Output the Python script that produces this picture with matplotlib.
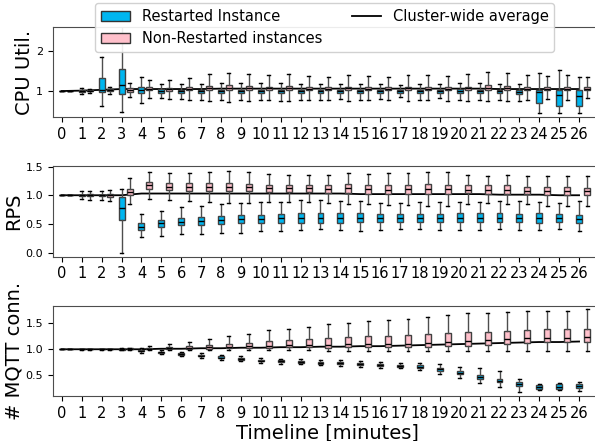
import matplotlib
matplotlib.use("Agg")
import matplotlib.pyplot as plt
from matplotlib.patches import Patch
from matplotlib.lines import Line2D

minutes = list(range(27))

# CPU utilisation - restarted instance
cpu_r_lo  = [1, 0.93, 0.63, 0.48, 0.71, 0.83, 0.80, 0.78, 0.78, 0.77, 0.78, 0.76, 0.78, 0.78, 0.80, 0.78, 0.80, 0.84, 0.78, 0.83, 0.77, 0.78, 0.78, 0.76, 0.44, 0.46, 0.46]
cpu_r_q1  = [1, 0.98, 0.97, 0.92, 0.94, 0.94, 0.95, 0.95, 0.95, 0.94, 0.95, 0.94, 0.94, 0.94, 0.95, 0.94, 0.94, 0.96, 0.94, 0.96, 0.94, 0.94, 0.94, 0.93, 0.69, 0.62, 0.62]
cpu_r_med = [1, 1.00, 1.02, 1.15, 1.02, 0.99, 0.99, 0.99, 0.99, 0.99, 0.99, 0.99, 0.99, 0.99, 0.99, 0.99, 0.99, 1.00, 0.99, 0.99, 0.99, 0.99, 0.99, 0.98, 0.97, 0.90, 0.87]
cpu_r_q3  = [1, 1.02, 1.32, 1.55, 1.11, 1.04, 1.03, 1.03, 1.03, 1.03, 1.03, 1.03, 1.03, 1.03, 1.03, 1.03, 1.03, 1.03, 1.03, 1.03, 1.04, 1.03, 1.03, 1.03, 1.03, 1.03, 1.03]
cpu_r_hi  = [1, 1.07, 1.86, 2.90, 1.36, 1.17, 1.18, 1.17, 1.20, 1.20, 1.19, 1.21, 1.18, 1.18, 1.17, 1.18, 1.17, 1.15, 1.18, 1.18, 1.19, 1.19, 1.18, 1.18, 1.45, 1.54, 1.36]
# CPU utilisation - non-restarted instances
cpu_n_lo  = [1, 0.96, 0.93, 0.86, 0.82, 0.80, 0.78, 0.75, 0.72, 0.74, 0.78, 0.74, 0.78, 0.78, 0.75, 0.78, 0.77, 0.75, 0.77, 0.76, 0.76, 0.75, 0.76, 0.78, 0.80, 0.78, 0.82]
cpu_n_q1  = [1, 0.99, 1.00, 0.98, 1.02, 1.01, 1.02, 1.02, 1.02, 1.02, 1.02, 1.02, 1.02, 1.02, 1.02, 1.02, 1.02, 1.02, 1.02, 1.02, 1.02, 1.02, 1.02, 1.02, 1.02, 1.02, 1.02]
cpu_n_med = [1, 1.00, 1.02, 1.03, 1.05, 1.05, 1.06, 1.07, 1.08, 1.07, 1.07, 1.07, 1.06, 1.06, 1.07, 1.06, 1.06, 1.07, 1.06, 1.06, 1.07, 1.08, 1.07, 1.06, 1.06, 1.06, 1.06]
cpu_n_q3  = [1, 1.02, 1.05, 1.07, 1.09, 1.08, 1.10, 1.12, 1.15, 1.12, 1.11, 1.12, 1.11, 1.10, 1.11, 1.10, 1.10, 1.11, 1.10, 1.11, 1.11, 1.14, 1.13, 1.10, 1.09, 1.10, 1.09]
cpu_n_hi  = [1, 1.05, 1.10, 1.19, 1.28, 1.28, 1.33, 1.42, 1.45, 1.42, 1.40, 1.42, 1.38, 1.34, 1.40, 1.38, 1.34, 1.40, 1.40, 1.38, 1.42, 1.47, 1.44, 1.40, 1.38, 1.39, 1.35]
cpu_avg   = [1.0, 1.01, 1.03, 1.05, 1.05, 1.05, 1.05, 1.05, 1.06, 1.06, 1.06, 1.06, 1.06, 1.06, 1.06, 1.06, 1.06, 1.06, 1.06, 1.06, 1.06, 1.06, 1.05, 1.05, 1.05, 1.05, 1.05]

# RPS - restarted instance
rps_r_lo  = [1, 0.93, 0.92, 0.00, 0.27, 0.29, 0.32, 0.32, 0.35, 0.35, 0.38, 0.38, 0.39, 0.41, 0.39, 0.38, 0.39, 0.41, 0.41, 0.39, 0.39, 0.39, 0.41, 0.40, 0.39, 0.41, 0.38]
rps_r_q1  = [1, 0.98, 0.98, 0.57, 0.39, 0.45, 0.48, 0.49, 0.50, 0.51, 0.51, 0.52, 0.52, 0.52, 0.52, 0.53, 0.54, 0.53, 0.53, 0.53, 0.53, 0.53, 0.53, 0.53, 0.52, 0.53, 0.51]
rps_r_med = [1, 1.00, 1.00, 0.77, 0.45, 0.51, 0.54, 0.56, 0.57, 0.58, 0.59, 0.60, 0.61, 0.61, 0.61, 0.61, 0.61, 0.61, 0.61, 0.61, 0.61, 0.61, 0.61, 0.61, 0.61, 0.61, 0.59]
rps_r_q3  = [1, 1.01, 1.01, 0.97, 0.51, 0.57, 0.61, 0.62, 0.64, 0.65, 0.66, 0.68, 0.69, 0.69, 0.69, 0.69, 0.67, 0.68, 0.68, 0.68, 0.69, 0.69, 0.69, 0.68, 0.69, 0.68, 0.66]
rps_r_hi  = [1, 1.07, 1.08, 1.11, 0.67, 0.73, 0.79, 0.81, 0.84, 0.87, 0.89, 0.89, 0.92, 0.92, 0.90, 0.90, 0.87, 0.87, 0.88, 0.88, 0.88, 0.88, 0.90, 0.90, 0.88, 0.87, 0.90]
# RPS - non-restarted instances
rps_n_lo  = [1, 0.92, 0.90, 0.84, 0.93, 0.91, 0.90, 0.88, 0.87, 0.87, 0.88, 0.89, 0.88, 0.87, 0.84, 0.84, 0.83, 0.83, 0.81, 0.81, 0.84, 0.87, 0.85, 0.84, 0.82, 0.81, 0.81]
rps_n_q1  = [1, 0.98, 0.97, 1.01, 1.11, 1.09, 1.08, 1.08, 1.07, 1.07, 1.05, 1.05, 1.05, 1.04, 1.04, 1.03, 1.03, 1.03, 1.03, 1.03, 1.04, 1.03, 1.03, 1.02, 1.01, 1.01, 1.00]
rps_n_med = [1, 1.00, 1.00, 1.05, 1.17, 1.15, 1.15, 1.15, 1.15, 1.14, 1.12, 1.12, 1.12, 1.11, 1.12, 1.11, 1.10, 1.11, 1.11, 1.11, 1.10, 1.10, 1.10, 1.08, 1.08, 1.08, 1.07]
rps_n_q3  = [1, 1.02, 1.03, 1.11, 1.23, 1.21, 1.21, 1.21, 1.22, 1.20, 1.18, 1.18, 1.18, 1.18, 1.19, 1.18, 1.17, 1.18, 1.19, 1.18, 1.17, 1.17, 1.17, 1.14, 1.14, 1.14, 1.13]
rps_n_hi  = [1, 1.08, 1.10, 1.30, 1.40, 1.39, 1.39, 1.40, 1.43, 1.40, 1.37, 1.36, 1.36, 1.36, 1.39, 1.37, 1.38, 1.39, 1.41, 1.40, 1.36, 1.34, 1.36, 1.33, 1.34, 1.34, 1.34]
rps_avg   = [1.0, 1.0, 1.0, 1.0, 1.03, 1.03, 1.03, 1.03, 1.03, 1.03, 1.03, 1.03, 1.03, 1.03, 1.03, 1.02, 1.02, 1.02, 1.02, 1.02, 1.02, 1.02, 1.01, 1.01, 1.01, 1.0, 1.0]

# MQTT connections - restarted instance
mq_r_lo   = [1, 0.99, 0.99, 0.98, 0.93, 0.90, 0.86, 0.83, 0.80, 0.77, 0.74, 0.72, 0.71, 0.69, 0.68, 0.66, 0.64, 0.63, 0.60, 0.52, 0.44, 0.34, 0.26, 0.18, 0.21, 0.21, 0.20]
mq_r_q1   = [1, 1.00, 1.00, 0.99, 0.96, 0.93, 0.89, 0.86, 0.83, 0.80, 0.77, 0.75, 0.74, 0.72, 0.71, 0.69, 0.67, 0.66, 0.63, 0.58, 0.52, 0.43, 0.36, 0.28, 0.23, 0.24, 0.25]
mq_r_med  = [1, 1.00, 1.00, 1.00, 0.97, 0.94, 0.90, 0.87, 0.84, 0.81, 0.78, 0.77, 0.76, 0.74, 0.73, 0.71, 0.69, 0.68, 0.66, 0.61, 0.55, 0.47, 0.39, 0.32, 0.26, 0.27, 0.28]
mq_r_q3   = [1, 1.00, 1.00, 1.01, 0.99, 0.95, 0.92, 0.89, 0.86, 0.83, 0.80, 0.79, 0.78, 0.76, 0.75, 0.73, 0.71, 0.70, 0.69, 0.64, 0.58, 0.51, 0.43, 0.36, 0.30, 0.32, 0.33]
mq_r_hi   = [1, 1.01, 1.01, 1.02, 1.02, 0.98, 0.95, 0.92, 0.89, 0.86, 0.83, 0.82, 0.82, 0.80, 0.79, 0.77, 0.75, 0.74, 0.73, 0.72, 0.66, 0.63, 0.57, 0.42, 0.33, 0.34, 0.37]
# MQTT connections - non-restarted instances
mq_n_lo   = [1, 0.99, 0.99, 0.99, 0.98, 0.98, 0.98, 0.98, 0.98, 0.98, 0.98, 0.98, 0.98, 0.97, 0.97, 0.97, 0.97, 0.97, 0.97, 0.96, 0.96, 0.96, 0.96, 0.96, 0.96, 0.96, 0.96]
mq_n_q1   = [1, 1.00, 1.00, 1.00, 1.00, 1.00, 1.00, 1.01, 1.02, 1.02, 1.03, 1.04, 1.04, 1.03, 1.04, 1.04, 1.05, 1.05, 1.05, 1.06, 1.07, 1.08, 1.10, 1.13, 1.14, 1.14, 1.14]
mq_n_med  = [1, 1.00, 1.00, 1.01, 1.01, 1.02, 1.03, 1.04, 1.05, 1.06, 1.07, 1.08, 1.09, 1.09, 1.10, 1.10, 1.10, 1.11, 1.12, 1.14, 1.16, 1.17, 1.19, 1.21, 1.22, 1.22, 1.23]
mq_n_q3   = [1, 1.01, 1.01, 1.02, 1.03, 1.05, 1.07, 1.09, 1.11, 1.13, 1.16, 1.18, 1.20, 1.21, 1.23, 1.25, 1.26, 1.28, 1.29, 1.31, 1.33, 1.34, 1.36, 1.37, 1.39, 1.39, 1.39]
mq_n_hi   = [1, 1.01, 1.01, 1.03, 1.07, 1.10, 1.14, 1.20, 1.25, 1.30, 1.37, 1.40, 1.44, 1.48, 1.50, 1.54, 1.57, 1.59, 1.62, 1.67, 1.70, 1.71, 1.73, 1.74, 1.74, 1.74, 1.77]
mq_avg    = [1.0, 1.0, 1.0, 1.0, 1.0, 1.01, 1.01, 1.02, 1.02, 1.03, 1.03, 1.04, 1.04, 1.05, 1.05, 1.06, 1.06, 1.07, 1.08, 1.09, 1.10, 1.11, 1.12, 1.13, 1.14, 1.14, 1.15]

BLUE = "#00b6f0"
PINK = "pink"


def stats(lo, q1, med, q3, hi):
    return [dict(whislo=a, q1=b, med=c, q3=d, whishi=e)
            for a, b, c, d, e in zip(lo, q1, med, q3, hi)]


def draw_boxes(ax, st, pos, color):
    ax.bxp(st, positions=pos, widths=0.3, patch_artist=True, showfliers=False,
           manage_ticks=False,
           boxprops=dict(facecolor=color, edgecolor="0.25", linewidth=1),
           whiskerprops=dict(color="0.3", linewidth=1),
           capprops=dict(color="black", linewidth=1),
           medianprops=dict(color="black", linewidth=1))


panels = [
    ("CPU Util.", (cpu_r_lo, cpu_r_q1, cpu_r_med, cpu_r_q3, cpu_r_hi),
     (cpu_n_lo, cpu_n_q1, cpu_n_med, cpu_n_q3, cpu_n_hi), cpu_avg,
     (0.34, 2.61), [1, 2], ["1", "2"], 0.734),
    ("RPS", (rps_r_lo, rps_r_q1, rps_r_med, rps_r_q3, rps_r_hi),
     (rps_n_lo, rps_n_q1, rps_n_med, rps_n_q3, rps_n_hi), rps_avg,
     (-0.07, 1.505), [0, 0.5, 1.0, 1.5], ["0.0", "0.5", "1.0", "1.5"], 0.418),
    ("# MQTT conn.", (mq_r_lo, mq_r_q1, mq_r_med, mq_r_q3, mq_r_hi),
     (mq_n_lo, mq_n_q1, mq_n_med, mq_n_q3, mq_n_hi), mq_avg,
     (0.095, 1.845), [0.5, 1.0, 1.5], ["0.5", "1.0", "1.5"], 0.102),
]

fig = plt.figure(figsize=(5.95, 4.41), dpi=100)

for label, rest, nonrest, avg, ylim, yt, ytl, bottom in panels:
    ax = fig.add_axes([0.089, bottom, 0.921, 0.205])
    ax.plot(minutes, avg, color="black", linewidth=1.3, zorder=1)
    draw_boxes(ax, stats(*rest), minutes, BLUE)
    draw_boxes(ax, stats(*nonrest), [m + 0.4 for m in minutes], PINK)
    ax.set_xlim(-0.45, 27.1)
    ax.set_ylim(*ylim)
    ax.set_xticks(minutes)
    ax.set_xticklabels([str(m) for m in minutes], fontsize=10.5)
    ax.set_yticks(yt)
    ax.set_yticklabels(ytl, fontsize=8)
    ax.set_ylabel(label, fontsize=14, labelpad=1.5)
    for s in ax.spines.values():
        s.set_color("0.3")
    ax.spines["right"].set_visible(False)

ax.set_xlabel("Timeline [minutes]", fontsize=14, labelpad=2)

handles = [Patch(facecolor=BLUE, edgecolor="0.2"),
           Patch(facecolor=PINK, edgecolor="0.2"),
           Line2D([], [], color="black", linewidth=1.3)]
names = ["Restarted Instance", "Non-Restarted instances", "Cluster-wide average"]
fig.legend(handles, names, loc="upper center", bbox_to_anchor=(0.546, 1.0),
           ncol=2, fontsize=10.5, framealpha=0.9, borderaxespad=0.2,
           handlelength=2.0, columnspacing=2.0)

fig.savefig("out.png", dpi=100)
